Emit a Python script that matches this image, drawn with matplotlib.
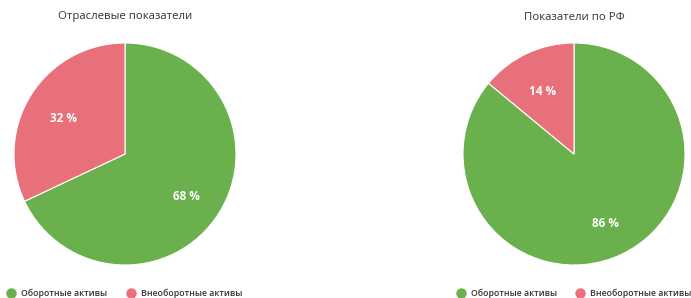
import numpy as np
import matplotlib.pyplot as plt
from matplotlib.lines import Line2D

plt.rcParams['font.family'] = ['Open Sans', 'DejaVu Sans']

titles = ['Отраслевые показатели', 'Показатели по РФ']
categories = ['Оборотные активы', 'Внеоборотные активы']
industry = [68, 32]
russia = [86, 14]
colors = ['#6ab04c', '#e8707a']

W, H = 691, 298
fig = plt.figure(figsize=(W / 100, H / 100), dpi=100)


def draw_pie(cx, cy, r, values, title):
    ax = fig.add_axes([(cx - r) / W, 1 - (cy + r) / H, 2 * r / W, 2 * r / H])
    wedges, texts = ax.pie(values, colors=colors, startangle=90, counterclock=False,
                           wedgeprops=dict(linewidth=0.8, edgecolor='white'))
    for w, v in zip(wedges, values):
        ang = np.deg2rad((w.theta1 + w.theta2) / 2)
        ax.text(0.66 * np.cos(ang), 0.66 * np.sin(ang) - 0.03, f'{v} %', color='white',
                fontsize=8.5, fontweight='bold', ha='center', va='center')
    ax.set_xlim(-1, 1)
    ax.set_ylim(-1, 1)
    ax.set_aspect('equal')
    fig.text(cx / W, 1 - 17 / H, title, ha='center', va='center', fontsize=8.2, color='#333333')


draw_pie(125, 154, 111, industry, titles[0])
draw_pie(574, 154, 111, russia, titles[1])


def draw_legend(x0, x1):
    for x, c, lab in zip([x0, x1], colors, categories):
        fig.add_artist(Line2D([x / W], [1 - 293 / H], marker='o', markersize=6.5,
                              color=c, linestyle='none', transform=fig.transFigure))
        fig.text((x + 10) / W, 1 - 293 / H, lab, ha='left', va='center', fontsize=6.3,
                 fontweight='semibold', color='#333333')


draw_legend(11, 131)
draw_legend(461, 580)

fig.savefig('out.png', dpi=100)
